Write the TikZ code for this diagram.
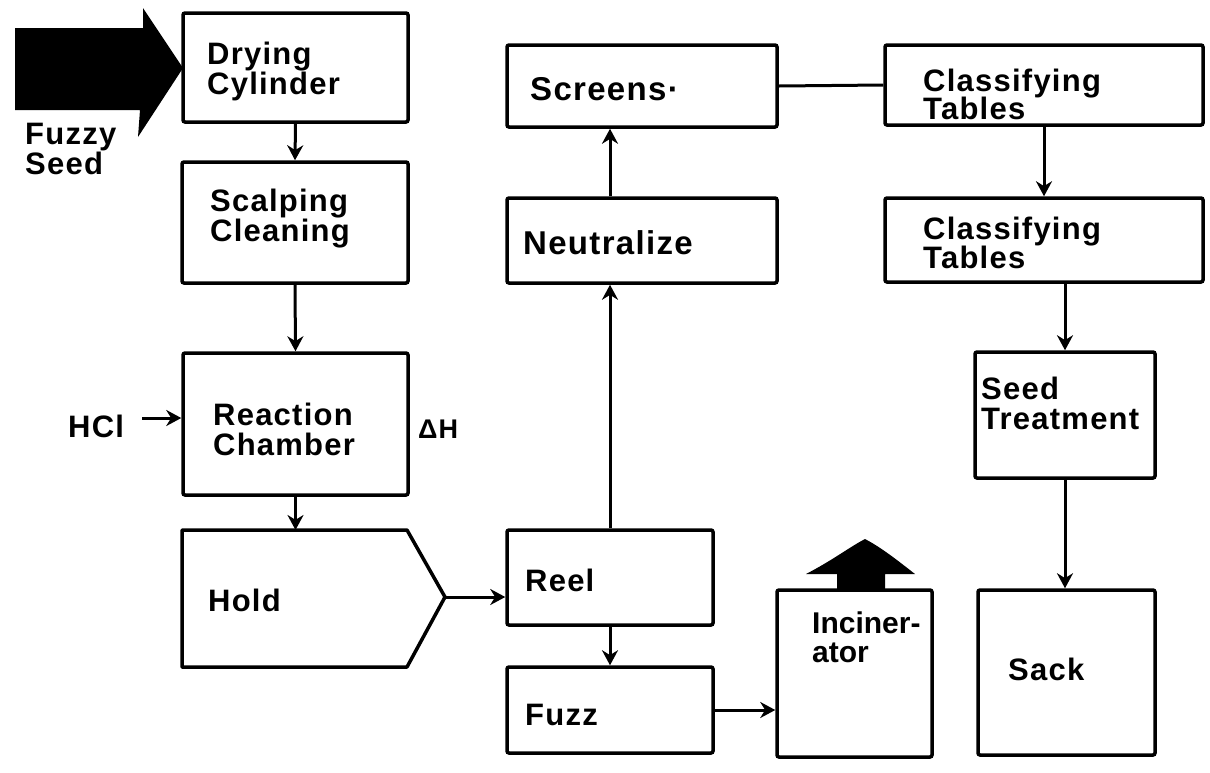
\documentclass[tikz,border=0pt]{standalone}
\usepackage{fontspec}
\setmainfont{Liberation Sans}
\newfontfamily\lblfont[LetterSpace=4]{Liberation Sans}
\newcommand\tightlines{\lineskiplimit=-100pt\relax}
\usetikzlibrary{arrows.meta,calc}
\begin{document}
\begin{tikzpicture}[x=1pt,y=-1pt,
  box/.style={draw,line width=3.5pt,inner sep=0pt,rounded corners=2pt},
  lbl/.style={anchor=north west,inner sep=0pt,align=left,
    font={\lblfont\bfseries\fontsize{31}{30}\selectfont\tightlines}},
  flow/.style={line width=3pt,-{Stealth[length=15pt,width=16pt]}},
  link/.style={line width=3pt}]
\useasboundingbox (0,0) rectangle (1210,772);

% boxes
\node[box,minimum width=225,minimum height=109] (dry)   at (295.5,67.5) {};
\node[box,minimum width=226,minimum height=121] (scalp) at (295,222.5) {};
\node[box,minimum width=225,minimum height=142] (react) at (295.5,424) {};
\node[box,minimum width=206,minimum height=95]  (reel)  at (610,577.5) {};
\node[box,minimum width=206,minimum height=86]  (fuzz)  at (610,710) {};
\node[box,minimum width=270,minimum height=85]  (neut)  at (642,240.5) {};
\node[box,minimum width=270,minimum height=82]  (scr)   at (642,86) {};
\node[box,minimum width=155,minimum height=167] (incin) at (854.5,673.5) {};
\node[box,minimum width=318,minimum height=80]  (ctA)   at (1044,85) {};
\node[box,minimum width=318,minimum height=84]  (ctB)   at (1044,240) {};
\node[box,minimum width=180,minimum height=126] (seed)  at (1065,415) {};
\node[box,minimum width=177,minimum height=165] (sack)  at (1066.5,672.5) {};

% hold pentagon
\draw[line width=3.5pt,line join=round] (182,530) -- (407,530) -- (445,597) -- (407,667) -- (182,667) -- cycle;
\coordinate (holdtop) at (295.5,530);
\coordinate (holdtip) at (445,597);

% big input arrow
\fill (15,28) -- (143,28) -- (143,8) -- (183,68) -- (138,137) -- (140,110) -- (15,110) -- cycle;
% exhaust arrow above incinerator
\fill (837,590) -- (837,574) -- (806,574) .. controls (833,560) and (848,548) .. (865,539)
      .. controls (882,548) and (897,560) .. (915,574) -- (885,574) -- (885,590) -- cycle;

% labels
\node[lbl] (tfs)   at (25,123)  {Fuzzy\\Seed};
\node[lbl] (tdry)  at (207,42)  {Drying\\Cylinder};
\node[lbl] (tsc)   at (210,189) {Scalping\\Cleaning};
\node[lbl] (trc)   at (213,403) {Reaction\\Chamber};
\node[lbl] (hcl)   at (68,415)  {HCl};
\node[lbl,font={\lblfont\bfseries\fontsize{27}{30}\selectfont}] (dh) at (418,420) {ΔH};
\node[lbl] (thold) at (208,589) {Hold};
\node[lbl] (treel) at (525,569) {Reel};
\node[lbl] (tfuzz) at (525,704) {Fuzz};
\node[lbl,font={\lblfont\bfseries\fontsize{33}{30}\selectfont}] (tneut) at (523,230) {Neutralize};
\node[lbl,font={\lblfont\bfseries\fontsize{33}{30}\selectfont}] (tscr)  at (530,77)  {Screens·};
\node[lbl,font={\bfseries\fontsize{30}{29}\selectfont\tightlines}] (tinc)  at (812,612) {Inciner-\\ator};
\node[lbl,font={\lblfont\bfseries\fontsize{31}{28}\selectfont\tightlines}] (tctA) at (923,69)  {Classifying\\Tables};
\node[lbl,font={\lblfont\bfseries\fontsize{31}{28.5}\selectfont\tightlines}] (tctB) at (923,217) {Classifying\\Tables};
\node[lbl] (tseed) at (981,377) {Seed\\Treatment};
\node[lbl] (tsack) at (1008,658) {Sack};

% connectors
\coordinate (hclstart) at (142,418);
\draw[flow] (dry.south) -- (scalp.north);
\draw[flow] (scalp.south) -- (react.north);
\draw[flow] (react.south) -- (holdtop);
\draw[flow] (hclstart) -- (react.west |- hclstart);
\draw[flow] (holdtip) -- (holdtip -| reel.west);
\draw[flow] (reel.north) -- (reel.north |- neut.south);
\draw[flow] (reel.north |- neut.north) -- (reel.north |- scr.south);
\draw[flow] (reel.south) -- (reel.south |- fuzz.north);
\draw[flow] (fuzz.east) -- (fuzz.east -| incin.west);
\draw[link] (scr.east) -- (ctA.west);
\draw[flow] (ctA.south) -- (ctB.north);
\draw[flow] (seed.north |- ctB.south) -- (seed.north);
\draw[flow] (seed.south) -- (seed.south |- sack.north);
\end{tikzpicture}
\end{document}
